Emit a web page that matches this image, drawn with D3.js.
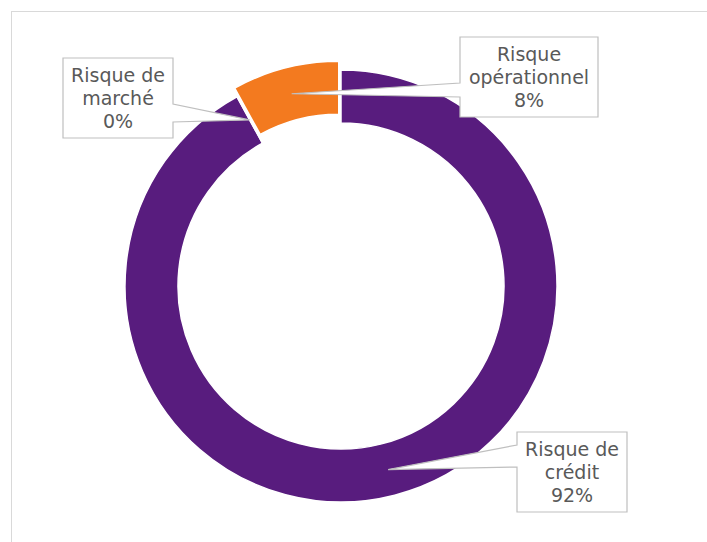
<!DOCTYPE html>
<html>
<head>
<meta charset="utf-8">
<script src="https://cdn.jsdelivr.net/npm/d3@7"></script>
<style>
  body { margin: 0; background: #fff; }
  svg { display: block; }
</style>
</head>
<body>
<div id="chart"></div>
<script>
var categories = ['Risque de crédit', 'Risque de marché', 'Risque opérationnel'];
var values = [92, 0, 8];
var labelNames = [['Risque de', 'crédit'], ['Risque de', 'marché'], ['Risque', 'opérationnel']];
var colors = ['#581c7e', '#581c7e', '#f37a1f'];

// callout boxes (layout only)
var boxes = [
    {x: 517, y: 432, w: 110, h: 80, side: 'left', base: 456, half: 11},
    {x: 63, y: 58, w: 110, h: 80, side: 'right', base: 113, half: 9},
    {x: 460, y: 37, w: 138, h: 80, side: 'left', base: 90, half: 7}
];
var explode = [0, 0, 9];

var width = 707, height = 542;
var cx = 341, cy = 286, outerR = 216, innerR = 163;

var svg = d3.select('#chart').append('svg')
    .attr('width', width)
    .attr('height', height);

svg.append('rect')
    .attr('x', 11.5)
    .attr('y', 11.5)
    .attr('width', 720)
    .attr('height', 560)
    .attr('fill', '#fff')
    .attr('stroke', '#d9d9d9');

var g = svg.append('g')
    .attr('transform', 'translate(' + cx + ',' + cy + ')');

var pie = d3.pie().sort(null).value(function (d) { return d; });
var arcs = pie(values);

var arc = d3.arc().innerRadius(innerR).outerRadius(outerR);
var midArc = d3.arc().innerRadius((innerR + outerR) / 2).outerRadius((innerR + outerR) / 2);

function offset(d, i) {
    var a = (d.startAngle + d.endAngle) / 2;
    return [Math.sin(a) * explode[i], -Math.cos(a) * explode[i]];
}

g.selectAll('path.slice')
    .data(arcs)
    .enter()
    .append('path')
    .attr('class', 'slice')
    .attr('d', arc)
    .attr('transform', function (d, i) {
        var o = offset(d, i);
        return 'translate(' + o[0] + ',' + o[1] + ')';
    })
    .attr('fill', function (d, i) { return colors[i]; })
    .attr('stroke', '#fff')
    .attr('stroke-width', 1.5);

var total = d3.sum(values);

arcs.forEach(function (d, i) {
    var b = boxes[i];
    var c = midArc.centroid(d);
    var o = offset(d, i);
    var tx = cx + c[0] + o[0], ty = cy + c[1] + o[1];
    var b0 = b.base - b.half, b1 = b.base + b.half;
    var p;
    if (b.side === 'left') {
        p = 'M' + b.x + ',' + b.y + 'H' + (b.x + b.w) + 'V' + (b.y + b.h) + 'H' + b.x +
            'V' + b1 + 'L' + tx + ',' + ty + 'L' + b.x + ',' + b0 + 'Z';
    } else {
        p = 'M' + b.x + ',' + b.y + 'H' + (b.x + b.w) + 'V' + b0 + 'L' + tx + ',' + ty +
            'L' + (b.x + b.w) + ',' + b1 + 'V' + (b.y + b.h) + 'H' + b.x + 'Z';
    }
    svg.append('path')
        .attr('d', p)
        .attr('fill', '#fff')
        .attr('stroke', '#bfbfbf')
        .attr('stroke-width', 1.2);

    var lines = labelNames[i].concat([Math.round(values[i] / total * 100) + '%']);
    var t = svg.append('text')
        .attr('x', b.x + b.w / 2)
        .attr('y', b.y + 24)
        .attr('text-anchor', 'middle')
        .attr('font-family', 'DejaVu Sans, Verdana, sans-serif')
        .attr('font-size', '19px')
        .attr('fill', '#595959');
    lines.forEach(function (l, k) {
        t.append('tspan')
            .attr('x', b.x + b.w / 2)
            .attr('dy', k === 0 ? 0 : 23)
            .text(l);
    });
});
</script>
</body>
</html>
